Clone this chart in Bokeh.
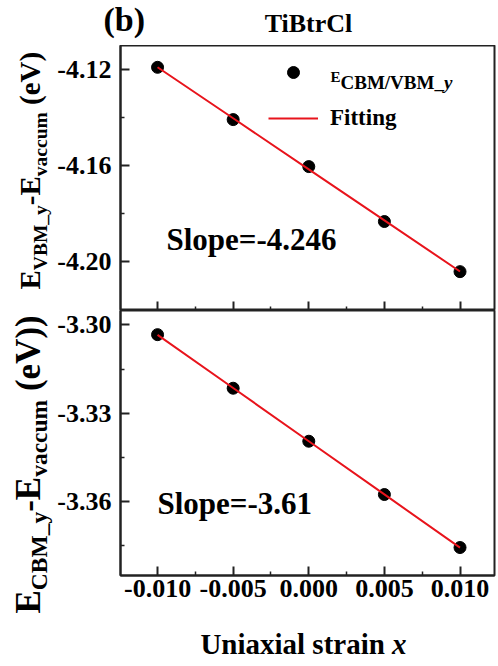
import math
import numpy as np
from bokeh.plotting import figure
from bokeh.layouts import column, row
from bokeh.models import (Label, Legend, LegendItem, FixedTicker,
                          PrintfTickFormatter, CustomJSTickFormatter, Range1d)
from bokeh.core.properties import value
from bokeh.embed import file_html
from bokeh.resources import INLINE

# ---------------- data ----------------
strain = [-0.010, -0.005, 0.000, 0.005, 0.010]
e_vbm = [-4.1190, -4.1408, -4.1604, -4.1833, -4.2042]
e_cbm = [-3.3033, -3.3215, -3.3395, -3.3576, -3.3756]
x_ticks = [-0.010, -0.005, 0.000, 0.005, 0.010]
x_minor = [-0.0075, -0.0025, 0.0025, 0.0075]
vbm_ticks = [-4.12, -4.16, -4.20]
vbm_minor = [-4.14, -4.18]
cbm_ticks = [-3.30, -3.33, -3.36]
cbm_minor = [-3.315, -3.345, -3.375]
slope_vbm = "Slope=-4.246"
slope_cbm = "Slope=-3.61"
title_text = "TiBtrCl"
panel_tag = "(b)"
legend_fit = "Fitting"
x_title = "Uniaxial strain "
x_title_var = "x"

# ---------------- layout ----------------
FONT = "Liberation Serif"
PW, PH = 498, 666
STRIP_L = 54          # left strip width (y titles)
LEFT = 66             # left border of data figures (frame starts at 120)
RIGHT = 4
TOP1 = 45             # top strip height
FH = 265              # frame height of each panel
BOT2 = 45             # room for x tick labels
MIDH = 2 * FH + BOT2
BOTH = PH - TOP1 - MIDH
FIGW = PW - STRIP_L
FW = FIGW - LEFT - RIGHT
XR = (-0.01245, 0.01228)
YR1 = (-4.2204, -4.1099)
YR2 = (-3.3851, -3.2951)
K = 0.30              # baseline correction for horizontal labels, in em
KR = 0.50             # baseline correction for rotated labels, in em

CW = {' ': 250, '(': 333, ')': 333, '-': 333, '.': 250, '/': 278, '_': 500, '=': 570,
      'A': 722, 'B': 667, 'C': 722, 'E': 667, 'M': 944, 'T': 667, 'U': 722, 'V': 722,
      'S': 556, 'F': 611, 'a': 500, 'c': 444, 'e': 444, 'g': 500, 'i': 278, 'l': 278,
      'm': 833, 'n': 556, 'o': 500, 'p': 556, 'r': 444, 's': 389, 't': 333, 'u': 556,
      'v': 500, 'x': 500, 'y': 500}
for d in "0123456789":
    CW[d] = 500


def tw(text, size):
    return sum(CW.get(c, 500) for c in text) * size / 1000.0


def label(x, y, text, size, italic=False, angle=0.0, align="left"):
    return Label(x=x, y=y, text=text, text_font=FONT, text_font_size=f"{size}px",
                 text_font_style="bold italic" if italic else "bold",
                 text_color="black", angle=angle, text_align=align,
                 text_baseline="alphabetic")


def strip(w, h):
    """A plain drawing area whose data units are pixels."""
    s = figure(width=w, height=h, x_range=Range1d(0, w), y_range=Range1d(0, h),
               x_axis_location=None, y_axis_location=None,
               min_border=0, min_border_left=0, min_border_right=0,
               min_border_top=0, min_border_bottom=0, frame_align=False,
               toolbar_location=None, output_backend="svg",
               background_fill_color="white", border_fill_color="white")
    s.outline_line_color = None
    s.xgrid.visible = False
    s.ygrid.visible = False
    return s


def slab(s, px, py, text, size, angle=0.0, **kw):
    """px, py: baseline position in pixels from the strip's top-left corner."""
    if angle:
        px -= KR * size
    else:
        py -= K * size
    s.add_layout(label(px, s.height - py, text, size, angle=angle, **kw))


def make_fig(height, yr, bottom):
    p = figure(width=FIGW, height=height, x_range=Range1d(*XR), y_range=Range1d(*yr),
               min_border_left=LEFT, min_border_right=RIGHT,
               min_border_top=0, min_border_bottom=bottom, frame_align=False,
               toolbar_location=None, output_backend="svg",
               background_fill_color="white", border_fill_color="white")
    p.xgrid.visible = False
    p.ygrid.visible = False
    p.outline_line_color = "#222222"
    p.outline_line_width = 2
    for ax in (p.xaxis[0], p.yaxis[0]):
        ax.axis_line_width = 2
        ax.axis_line_color = "#222222"
        ax.major_tick_in = 9
        ax.major_tick_out = 0
        ax.minor_tick_in = 4
        ax.minor_tick_out = 0
        ax.major_tick_line_width = 2
        ax.minor_tick_line_width = 1.5
        ax.major_tick_line_color = "#222222"
        ax.minor_tick_line_color = "#222222"
        ax.major_label_text_font = FONT
        ax.major_label_text_font_style = "bold"
        ax.major_label_text_font_size = "26px"
        ax.major_label_text_color = "black"
    p.xaxis[0].ticker = FixedTicker(ticks=x_ticks, minor_ticks=x_minor)
    p.xaxis[0].major_label_standoff = 4
    p.yaxis[0].major_label_standoff = 9
    return p


def flab(p, yr, px, py, text, size, **kw):
    """Label in a data figure; baseline position in pixels from the frame's top-left."""
    py -= K * size
    x = XR[0] + px / FW * (XR[1] - XR[0])
    y = yr[1] - py / FH * (yr[1] - yr[0])
    p.add_layout(label(x, y, text, size, **kw))


# ---------------- top strip: tag and title ----------------
top_strip = strip(PW, TOP1)
slab(top_strip, 103, 29, panel_tag, 34)
slab(top_strip, 308, 31, title_text, 26, align="center")

# ---------------- left strip: rotated y titles ----------------
left_strip = strip(STRIP_L, MIDH)


def vtitle(pieces, base_x, start_y):
    y = start_y
    for text, size, shift, gap in pieces:
        y -= gap * size
        slab(left_strip, base_x + shift, y, text, size, angle=math.pi / 2)
        y -= tw(text, size)


vtitle([("E", 29, 0, 0), ("VBM_y", 19.5, 6, 0), ("-E", 29, 0, 0),
        ("vaccum", 19.5, 6, 0), ("(eV)", 29, 0, 0.25)], 44, 289 - TOP1)
vtitle([("E", 35, 0, 0), ("CBM_y", 23.5, 5, 0), ("-E", 35, 0, 0),
        ("vaccum", 23.5, 5, 0), ("(eV))", 35, 0, 0.25)], 45, 613 - TOP1)

# ---------------- top panel ----------------
top = make_fig(FH, YR1, 0)
top.yaxis[0].ticker = FixedTicker(ticks=vbm_ticks, minor_ticks=vbm_minor)
top.yaxis[0].formatter = PrintfTickFormatter(format="%.2f")
top.xaxis[0].fixed_location = YR1[0]
top.xaxis[0].formatter = CustomJSTickFormatter(code="return ''")

pts1 = top.scatter(strain, e_vbm, size=12, fill_color="black", line_color="black")
c1 = np.polyfit(strain, e_vbm, 1)
fit1 = top.line(strain, np.polyval(c1, strain).tolist(), line_color="#e8141c", line_width=2)

legend = Legend(items=[LegendItem(label=value(""), renderers=[pts1]),
                       LegendItem(label=value(legend_fit), renderers=[fit1])],
                location=(148, 177), glyph_width=50, glyph_height=30, label_height=30,
                spacing=16, padding=0, margin=0, label_standoff=12,
                label_text_font=FONT, label_text_font_style="bold",
                label_text_font_size="23px", label_text_color="black",
                border_line_alpha=0, background_fill_alpha=0)
top.add_layout(legend)

flab(top, YR1, 330 - 120, 81 - TOP1, "E", 15)
flab(top, YR1, 340 - 120, 88 - TOP1, "CBM/VBM_", 19)
flab(top, YR1, 340 - 120 + tw("CBM/VBM_", 19), 88 - TOP1, "y", 19, italic=True)
flab(top, YR1, 166 - 120, 248 - TOP1, slope_vbm, 31)

# ---------------- bottom panel ----------------
bot = make_fig(FH + BOT2, YR2, BOT2)
bot.yaxis[0].ticker = FixedTicker(ticks=cbm_ticks, minor_ticks=cbm_minor)
bot.yaxis[0].formatter = PrintfTickFormatter(format="%.2f")
bot.xaxis[0].formatter = PrintfTickFormatter(format="%.3f")

bot.scatter(strain, e_cbm, size=12, fill_color="black", line_color="black")
c2 = np.polyfit(strain, e_cbm, 1)
bot.line(strain, np.polyval(c2, strain).tolist(), line_color="#e8141c", line_width=2)

flab(bot, YR2, 157 - 120, 512 - 310, slope_cbm, 31)

# ---------------- bottom strip: x title ----------------
bot_strip = strip(PW, BOTH)
x0 = 303 - (tw(x_title, 29) + tw(x_title_var, 29)) / 2
base = 652 - (TOP1 + MIDH)
slab(bot_strip, x0, base, x_title, 29)
slab(bot_strip, x0 + tw(x_title, 29), base, x_title_var, 29, italic=True)

layout = column(top_strip,
                row(left_strip, column(top, bot, spacing=0), spacing=0),
                bot_strip, spacing=0)
open("out.html", "w").write(file_html(layout, INLINE))
